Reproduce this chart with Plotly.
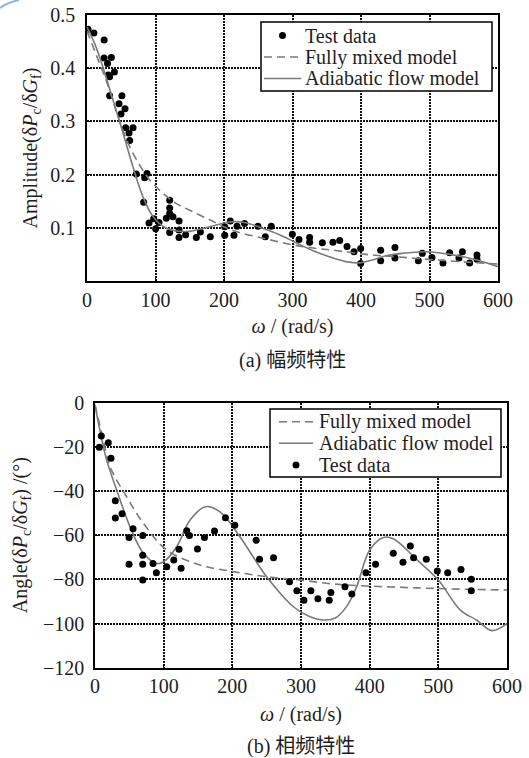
import plotly.graph_objects as go

# ---------------- (a) amplitude-frequency ----------------
amp_test_x = [1.5, 10, 25, 25, 30, 35.5, 31, 33, 40, 33, 51, 46.7, 55.5, 49.6, 56.4, 67.2, 61.3, 62.3,
              72, 84.2, 87.6, 82.7, 90.5, 97.3, 100.2, 105.1, 120.7, 120.7, 120.7, 115.8, 125.5, 134.3,
              120.7, 134.3, 134.3, 144, 159.6, 165.5, 180, 201, 201, 209.2, 214.6, 219, 230, 249.6,
              260.3, 269, 299.8, 309.5, 325, 325, 343.6, 359, 368.9, 379.6, 389.8, 399.5, 399.5,
              428.7, 428.7, 449.6, 449.6, 483.7, 489.5, 503.6, 519.7, 529.4, 543, 548, 558.6, 569.3, 569.3]
amp_test_y = [0.473, 0.466, 0.453, 0.419, 0.409, 0.420, 0.387, 0.384, 0.393, 0.348, 0.348, 0.333, 0.324,
              0.314, 0.288, 0.288, 0.278, 0.264, 0.201, 0.194, 0.202, 0.148, 0.109, 0.117, 0.098, 0.110,
              0.152, 0.137, 0.127, 0.118, 0.121, 0.113, 0.091, 0.096, 0.082, 0.087, 0.082, 0.092, 0.083,
              0.102, 0.086, 0.113, 0.086, 0.103, 0.108, 0.103, 0.083, 0.103, 0.088, 0.078, 0.082, 0.073,
              0.072, 0.073, 0.076, 0.065, 0.055, 0.061, 0.033, 0.058, 0.038, 0.063, 0.043, 0.038, 0.052,
              0.044, 0.034, 0.053, 0.043, 0.055, 0.034, 0.049, 0.041]

amp_mixed_x = [0, 15, 30, 45, 60, 75, 91.5, 111, 130, 150, 179, 213, 262, 300, 330, 359, 407, 456, 505, 550, 600]
amp_mixed_y = [0.47, 0.42, 0.37, 0.31, 0.259, 0.222, 0.190, 0.165, 0.146, 0.133, 0.115, 0.095, 0.079,
               0.068, 0.062, 0.058, 0.050, 0.045, 0.040, 0.036, 0.032]

amp_adiab_x = [0, 10, 20, 38, 52.6, 67, 81.8, 96.4, 116, 145, 179, 208, 230, 252, 281, 305, 330, 360,
               380, 398, 415, 435, 460, 495, 530, 568, 600]
amp_adiab_y = [0.477, 0.45, 0.415, 0.340, 0.278, 0.215, 0.158, 0.121, 0.099, 0.093, 0.102, 0.111, 0.110,
               0.101, 0.087, 0.072, 0.057, 0.043, 0.036, 0.034, 0.039, 0.047, 0.052, 0.055, 0.050, 0.040, 0.027]

# ---------------- (b) phase-frequency ----------------
ang_test_x = [6.3, 9.2, 19.4, 23.3, 29.6, 29.6, 39.4, 49.6, 49.6, 55.4, 69.5, 69.5, 69.5, 69.5, 84.5,
              89.4, 104.5, 114.7, 122.4, 125.4, 133.6, 137.5, 149.2, 159.4, 174, 190, 203.6, 234.7,
              239.6, 260, 283.3, 294, 304.2, 314.4, 324.6, 341.1, 343.5, 364, 374, 394.6, 408.6,
              434.4, 448.5, 459.2, 464, 482.5, 498.5, 513.6, 533, 548, 548]
ang_test_y = [-20.2, -15.1, -18.1, -25.1, -44.4, -52.2, -50.3, -61, -73.1, -57.1, -60.1, -69.1, -73.1,
              -80.3, -72.8, -77, -74.3, -71.2, -66.4, -75, -58, -60.1, -66.3, -61, -58.1, -52.1, -55.5,
              -62.3, -70.9, -70.2, -81.1, -85.1, -89.4, -85.1, -88.8, -89.4, -86, -83.3, -86.6, -77,
              -73.1, -68.2, -72.3, -64.9, -70.2, -70.9, -76.2, -77, -75.5, -80, -85.1]

ang_mixed_x = [0, 10, 22, 46, 70.5, 104.5, 153, 201.7, 250, 299, 347, 396, 445, 493, 542, 600]
ang_mixed_y = [-1, -14, -29, -42.6, -54.6, -66.7, -73.5, -76.5, -78.8, -80.3, -82.1, -83, -83.6,
               -84.1, -84.5, -84.8]

ang_adiab_x = [0, 7, 17, 31.6, 51, 70.5, 90, 100, 119, 138.5, 161, 182, 211, 250, 289, 310, 332, 350,
               367, 381, 400, 420, 435, 469, 500, 532, 556, 578, 600]
ang_adiab_y = [-1, -12.4, -26, -39.5, -56.2, -68.2, -72.8, -72, -65.2, -53.1, -47.1, -49.4, -60.7,
               -78.8, -92.4, -96.5, -98.4, -97.5, -92, -83.3, -66.7, -61, -61.7, -71.2, -80.3, -93.9,
               -98.5, -103.2, -100]

x_ticks = [0, 100, 200, 300, 400, 500, 600]
amp_ticks = [0.1, 0.2, 0.3, 0.4, 0.5]
ang_ticks = [0, -20, -40, -60, -80, -100, -120]

legend_a = ["Test data", "Fully mixed model", "Adiabatic flow model"]
legend_b = ["Fully mixed model", "Adiabatic flow model", "Test data"]

FONT = "Liberation Serif, Times New Roman, serif"
CJK = "Liberation Serif, Noto Sans CJK SC, serif"
GRAY = "#7a7a7a"
TXT = "#1e1e1e"
W, H = 529, 758


def px(x):
    return x / W


def py(y):
    return 1 - y / H


fig = go.Figure()

marker = dict(color="black", size=7)
dash_line = dict(color=GRAY, width=1.6, dash="8px,5px")
solid_line = dict(color=GRAY, width=1.6)

fig.add_trace(go.Scatter(x=amp_test_x, y=amp_test_y, mode="markers", marker=marker,
                         name="Test data", xaxis="x", yaxis="y"))
fig.add_trace(go.Scatter(x=amp_mixed_x, y=amp_mixed_y, mode="lines", line_shape="spline",
                         line=dash_line, name="Fully mixed model", xaxis="x", yaxis="y"))
fig.add_trace(go.Scatter(x=amp_adiab_x, y=amp_adiab_y, mode="lines", line_shape="spline",
                         line=solid_line, name="Adiabatic flow model", xaxis="x", yaxis="y"))
fig.add_trace(go.Scatter(x=ang_mixed_x, y=ang_mixed_y, mode="lines", line_shape="spline",
                         line=dash_line, name="Fully mixed model", xaxis="x2", yaxis="y2"))
fig.add_trace(go.Scatter(x=ang_adiab_x, y=ang_adiab_y, mode="lines", line_shape="spline",
                         line=solid_line, name="Adiabatic flow model", xaxis="x2", yaxis="y2"))
fig.add_trace(go.Scatter(x=ang_test_x, y=ang_test_y, mode="markers", marker=marker,
                         name="Test data", xaxis="x2", yaxis="y2"))

axis_common = dict(showline=True, linecolor="black", linewidth=1.5, mirror=True,
                   ticks="inside", ticklen=4, tickcolor="black", automargin=False,
                   showgrid=True, gridcolor="#111111", gridwidth=1.5, griddash="2px,1px",
                   zeroline=False, tickfont=dict(family=FONT, size=20, color=TXT))

xt = "<i>ω</i> / (rad/s)"

# ---- legend boxes drawn as shapes + text (to match compact spacing) ----
shapes = []
annotations = []


def add_legend(box, rows, labels, sample_x0, sample_x1, text_x):
    x0, y0, x1, y1 = box
    shapes.append(dict(type="rect", xref="paper", yref="paper", x0=px(x0), x1=px(x1),
                       y0=py(y1), y1=py(y0), line=dict(color="black", width=1.5),
                       fillcolor="white", layer="above"))
    for lab, ry in zip(labels, rows):
        if lab == "Test data":
            cx = (sample_x0 + sample_x1) / 2
            shapes.append(dict(type="circle", xref="paper", yref="paper",
                               x0=px(cx - 3.5), x1=px(cx + 3.5), y0=py(ry + 3.5), y1=py(ry - 3.5),
                               fillcolor="black", line=dict(color="black", width=0), layer="above"))
        else:
            ln = dash_line if lab.startswith("Fully") else solid_line
            shapes.append(dict(type="line", xref="paper", yref="paper",
                               x0=px(sample_x0), x1=px(sample_x1), y0=py(ry), y1=py(ry),
                               line=ln, layer="above"))
        annotations.append(dict(text=lab, x=px(text_x), y=py(ry), xref="paper", yref="paper",
                                xanchor="left", yanchor="middle", showarrow=False,
                                font=dict(family=FONT, size=20, color=TXT)))


add_legend((261, 22, 492, 91), [35.5, 57, 78.5], legend_a, 264, 301, 303)
add_legend((270, 409, 501, 477), [421.7, 443.3, 465], legend_b, 279, 313, 317)

annotations += [
    dict(text="(a) 幅频特性", x=px((87 + 498) / 2), y=py(360), xref="paper", yref="paper",
         xanchor="center", yanchor="middle", showarrow=False, font=dict(family=CJK, size=20, color=TXT)),
    dict(text="(b) 相频特性", x=px((95 + 507) / 2), y=py(746), xref="paper", yref="paper",
         xanchor="center", yanchor="middle", showarrow=False, font=dict(family=CJK, size=20, color=TXT)),
]
shapes.append(dict(type="path", xref="paper", yref="paper",
                   path=f"M 0,{py(8)} Q {px(6)},{py(3)} {px(19)},1",
                   line=dict(color="#8fb3e6", width=2)))

fig.update_layout(
    width=W, height=H, margin=dict(l=0, r=0, t=0, b=0, autoexpand=False),
    paper_bgcolor="white", plot_bgcolor="white",
    font=dict(family=FONT, size=20, color=TXT),
    showlegend=False,
    xaxis=dict(domain=[px(87), px(498)], anchor="y", range=[0, 600], tickvals=x_ticks,
               title=dict(text=xt, standoff=9, font=dict(family=FONT, size=20, color=TXT)), **axis_common),
    yaxis=dict(domain=[py(281), py(15)], anchor="x", range=[0, 0.5], tickvals=amp_ticks,
               ticktext=[f"{v:.1f}" for v in amp_ticks], ticklabelstandoff=6,
               title=dict(text="Amplitude(δ<i>P</i><sub>c</sub>/δ<i>G</i><sub>f</sub>)", standoff=7,
                          font=dict(family=FONT, size=20, color=TXT)), **axis_common),
    xaxis2=dict(domain=[px(95), px(507)], anchor="y2", range=[0, 600], tickvals=x_ticks,
                title=dict(text=xt, standoff=11, font=dict(family=FONT, size=20, color=TXT)), **axis_common),
    yaxis2=dict(domain=[py(667.7), py(402.7)], anchor="x2", range=[-120, 0], tickvals=ang_ticks,
                ticklabelstandoff=5,
                title=dict(text="Angle(δ<i>P</i><sub>c</sub>/δ<i>G</i><sub>f</sub>) /(°)", standoff=10,
                           font=dict(family=FONT, size=20, color=TXT)), **axis_common),
    annotations=annotations,
    shapes=shapes,
)

fig.write_html("out.html")
